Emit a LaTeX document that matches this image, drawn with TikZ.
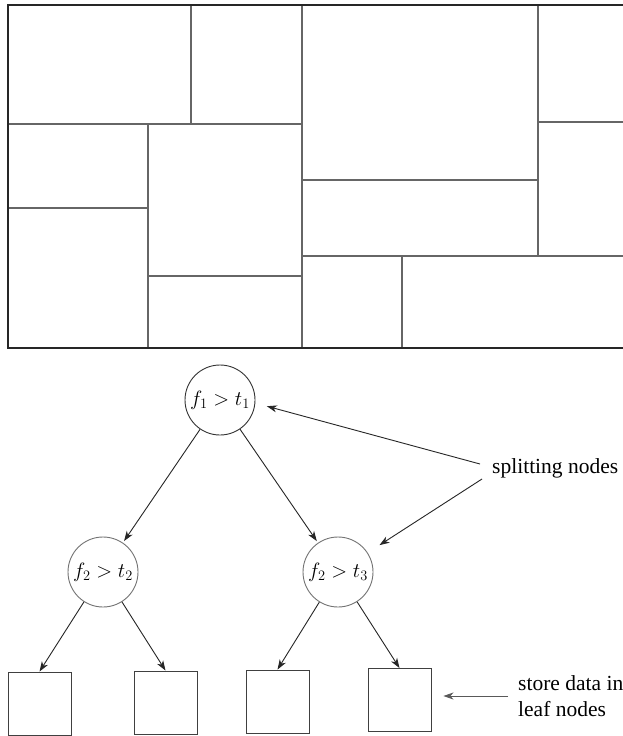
\documentclass[tikz,border=0pt]{standalone}
\usepackage[no-math]{fontspec}
\setmainfont{Liberation Serif}
\usetikzlibrary{arrows.meta,calc}
\begin{document}
\begin{tikzpicture}[x=1pt,y=-1pt,
  frame/.style={draw=black!85,line width=1.8pt},
  part/.style={draw=black!60,line width=1.1pt},
  split/.style={circle,draw=black!70,line width=0.9pt,minimum size=70pt,inner sep=0pt,font=\fontsize{21.5}{26}\selectfont},
  leaf/.style={rectangle,draw=black!75,line width=0.9pt,minimum width=63pt,minimum height=63pt,inner sep=0pt},
  arr/.style={draw=black!85,line width=0.9pt,-{Stealth[length=10pt,width=7pt,inset=3pt]}},
  lbl/.style={font=\fontsize{21.5}{26}\selectfont,anchor=west,inner sep=0pt,align=left}]
\clip (0,0) rectangle (623,736);
\fill[white] (0,0) rectangle (623,736);
% partition
\draw[part] (191,5)--(191,124);
\draw[part] (8,124)--(302,124);
\draw[part] (302,5)--(302,348);
\draw[part] (8,208)--(148,208);
\draw[part] (148,124)--(148,348);
\draw[part] (148,276)--(302,276);
\draw[part] (302,180)--(538,180);
\draw[part] (538,5)--(538,256);
\draw[part] (538,122)--(660,122);
\draw[part] (302,256)--(660,256);
\draw[part] (402,256)--(402,348);
\draw[frame] (8,5) rectangle (660,348);
% tree
\node[split,draw=black!80] (root) at (220,400) {$f_1>t_1$};
\node[split,draw=black!55] (m1) at (103,572) {$f_2>t_2$};
\node[split,draw=black!55] (m2) at (338,572) {$f_2>t_3$};
\node[leaf] (l1) at (39.5,703.5) {};
\node[leaf] (l2) at (165.5,702.5) {};
\node[leaf] (l3) at (277.5,701.5) {};
\node[leaf] (l4) at (399.5,700) {};
\draw[arr,shorten >=2pt] (root) -- (m1);
\draw[arr,shorten >=2pt] (root) -- (m2);
\draw[arr] (m1) -- (l1.north);
\draw[arr] (m1) -- (l2.north);
\draw[arr] (m2) -- (l3.north);
\draw[arr] (m2) -- (l4.north);
% labels
\node[lbl] (sp) at (492,468) {splitting nodes};
\coordinate (sa) at (480,464);
\coordinate (sb) at (482,479);
\draw[arr,shorten >=12pt] (sa) -- (root.-5);
\draw[arr,shorten >=14pt] (sb) -- (m2.33);
\node[lbl] (st) at (518,696) {store data in\\leaf nodes};
\coordinate (sc) at (508,696);
\draw[arr,draw=black!65,shorten >=12pt] (sc) -- (sc -| l4.east);
\end{tikzpicture}
\end{document}
